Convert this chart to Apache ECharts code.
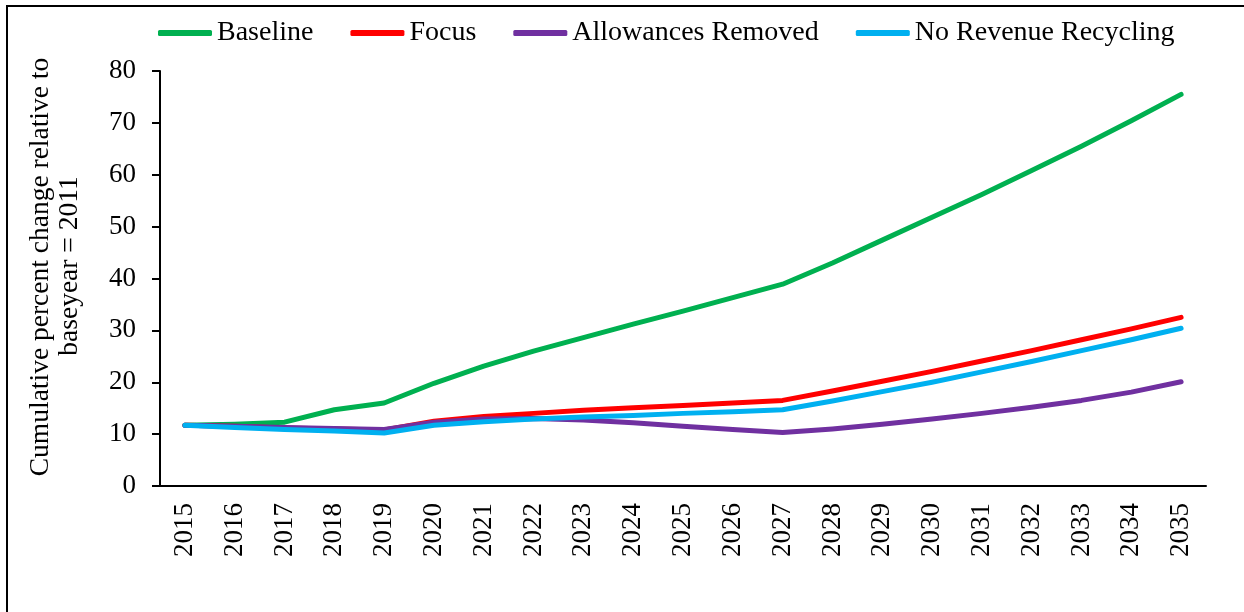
<!DOCTYPE html>
<html>
<head>
<meta charset="utf-8">
<script src="https://cdn.jsdelivr.net/npm/echarts@6/dist/echarts.min.js"></script>
<style>
  html, body { margin: 0; padding: 0; background: #fff; }
  #frame { position: absolute; left: 6px; top: 5px; width: 1250px; height: 620px; border: 2px solid #000; box-sizing: border-box; }
  #chart { position: absolute; left: 0; top: 0; width: 1244px; height: 612px; }
</style>
</head>
<body>
<div id="frame"></div>
<div id="chart"></div>
<script>
// 数据
var years = ['2015','2016','2017','2018','2019','2020','2021','2022','2023','2024','2025',
             '2026','2027','2028','2029','2030','2031','2032','2033','2034','2035'];
var baseline = [11.7, 11.9, 12.3, 14.7, 16.0, 19.8, 23.1, 26.0, 28.6, 31.2, 33.7,
                36.3, 38.9, 43.0, 47.4, 51.8, 56.2, 60.8, 65.5, 70.4, 75.5];
var focus = [11.7, 11.5, 11.2, 11.0, 10.8, 12.5, 13.4, 14.0, 14.6, 15.1, 15.5,
             16.0, 16.5, 18.3, 20.2, 22.1, 24.1, 26.1, 28.2, 30.3, 32.5];
var allowancesRemoved = [11.7, 11.5, 11.3, 11.1, 10.9, 12.3, 12.9, 13.0, 12.7, 12.2, 11.5,
                         10.9, 10.3, 11.0, 11.9, 12.9, 14.0, 15.2, 16.5, 18.1, 20.1];
var noRevenueRecycling = [11.7, 11.3, 10.9, 10.6, 10.2, 11.7, 12.4, 12.9, 13.3, 13.6, 14.0,
                          14.3, 14.7, 16.4, 18.2, 20.0, 22.0, 24.0, 26.1, 28.2, 30.4];
var yTitle = ['Cumulative percent change relative to', 'baseyear = 2011'];

var font = '"Liberation Serif", "Times New Roman", serif';

var chart = echarts.init(document.getElementById('chart'));

function line(name, data, color) {
  return {
    name: name,
    type: 'line',
    data: data,
    symbol: 'none',
    lineStyle: { width: 5, color: color, cap: 'round', join: 'round' },
    itemStyle: { color: color },
    emphasis: { disabled: true }
  };
}

var option = {
  animation: false,
  textStyle: { fontFamily: font, color: '#000' },
  legend: {
    top: 14,
    left: 153,
    icon: 'roundRect',
    itemWidth: 54,
    itemHeight: 6,
    itemGap: 37,
    textStyle: { fontFamily: font, fontSize: 28, color: '#000' },
    data: ['Baseline', 'Focus', 'Allowances Removed', 'No Revenue Recycling']
  },
  grid: { left: 160, right: 38, top: 71, bottom: 126, containLabel: false },
  xAxis: {
    type: 'category',
    data: years,
    boundaryGap: true,
    axisLine: { lineStyle: { color: '#000', width: 2 } },
    axisTick: { show: false },
    axisLabel: { rotate: 90, fontSize: 27, color: '#000', fontFamily: font, margin: 17 }
  },
  yAxis: {
    type: 'value',
    min: 0,
    max: 80,
    interval: 10,
    splitLine: { show: false },
    axisLine: { show: true, lineStyle: { color: '#000', width: 2 } },
    axisTick: { show: true, length: 8, lineStyle: { color: '#000', width: 2 } },
    axisLabel: { fontSize: 27, color: '#000', fontFamily: font, margin: 24 }
  },
  // 纵轴标题（两行）
  graphic: [
    {
      type: 'text',
      rotation: Math.PI / 2,
      style: { text: yTitle[0], font: '27.5px ' + font, fill: '#000', textAlign: 'center', textVerticalAlign: 'middle' },
      x: 41, y: 267
    },
    {
      type: 'text',
      rotation: Math.PI / 2,
      style: { text: yTitle[1], font: '27.5px ' + font, fill: '#000', textAlign: 'center', textVerticalAlign: 'middle' },
      x: 70, y: 266
    }
  ],
  series: [
    line('Baseline', baseline, '#00B050'),
    line('Focus', focus, '#FF0000'),
    line('Allowances Removed', allowancesRemoved, '#7030A0'),
    line('No Revenue Recycling', noRevenueRecycling, '#00B0F0')
  ]
};

chart.setOption(option);
</script>
</body>
</html>
